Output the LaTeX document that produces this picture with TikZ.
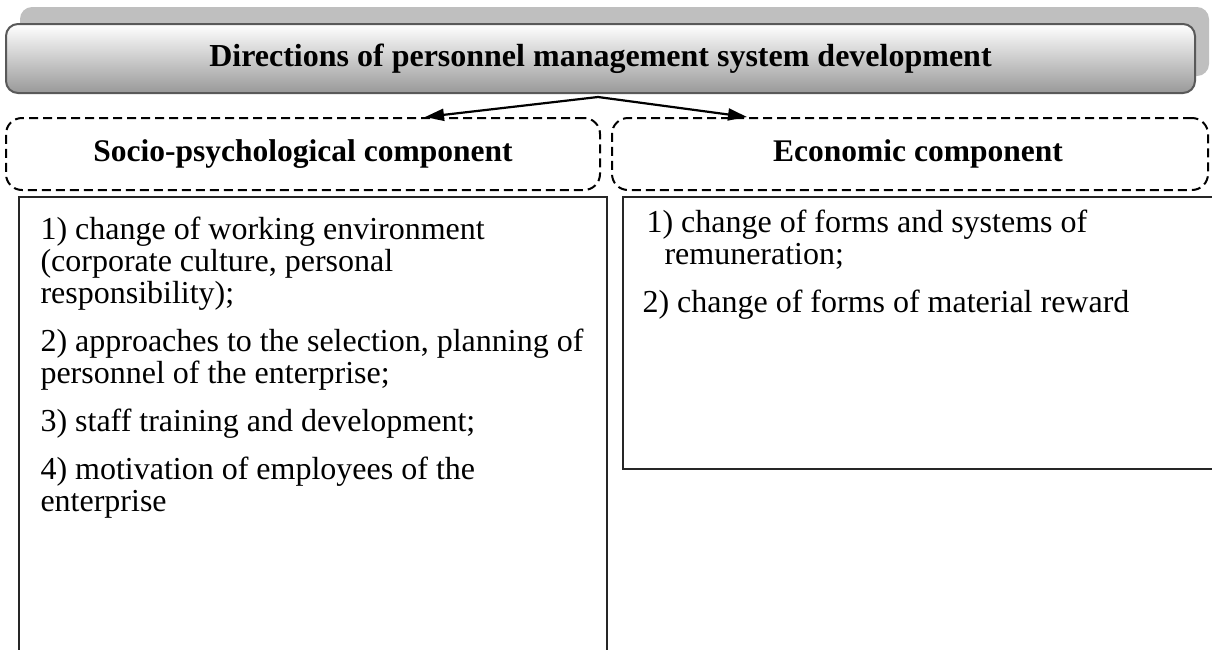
\documentclass[tikz,border=0pt]{standalone}
\usepackage{fontspec}
\setmainfont{Liberation Serif}
\usetikzlibrary{arrows.meta, positioning, shadows}

\begin{document}
\begin{tikzpicture}[x=0.5pt, y=-0.5pt,
        head/.style={rectangle, draw=black!65, line width=1pt, rounded corners=6pt,
                  top color=white, bottom color=black!40,
                  general shadow={fill=black!25, shadow xshift=7pt, shadow yshift=8.5pt},
                  minimum width=594.5pt, minimum height=34.5pt,
                  font=\fontsize{16}{18}\selectfont\bfseries},
        comp/.style={rectangle, draw=black, line width=1pt, dash pattern=on 4.5pt off 2.5pt,
                  rounded corners=8pt, minimum height=36pt,
                  font=\fontsize{15.75}{17}\selectfont\bfseries},
        listbox/.style={rectangle, draw=black!85, line width=0.9pt},
        listtext/.style={inner sep=0pt, align=left, anchor=north west,
                  font=\fontsize{16}{16}\selectfont},
        arr/.style={-{Triangle[length=9.5pt,width=6pt]}, line width=1.1pt, black}]
      \clip (0,0) rectangle (1212,649);
      \node[head] (dirs) at (600.5,58.5) {\raisebox{-1.5pt}{Directions of personnel management system development}};
      \node[comp, minimum width=297pt] (soc) at (303,154) {\raisebox{-2pt}{Socio-psychological component}};
      \node[comp, minimum width=298pt] (eco) at (910,154) {\hspace*{8pt}\raisebox{-2pt}{Economic component}};
      \node[listbox, minimum width=294pt, minimum height=241.5pt] (socbox) at (313,438.5) {};
      \node[listbox, minimum width=303.5pt, minimum height=136pt] (ecobox) at (926.5,333) {};
      % lists
      \node[listtext] (soclist) at ([xshift=11pt,yshift=-10pt]socbox.north west)
        {1) change of working environment\\ (corporate culture, personal\\ responsibility);\\[8pt]
         2) approaches to the selection, planning of\\ personnel of the enterprise;\\[8pt]
         3) staff training and development;\\[8pt]
         4) motivation of employees of the\\ enterprise};
      \node[listtext] (ecolist) at ([xshift=10pt,yshift=-6.5pt]ecobox.north west)
        {\hspace*{2pt}1) change of forms and systems of\\
         \hspace*{11pt}remuneration;\\[8pt]
         2) change of forms of material reward};
      % arrows
      \coordinate (split) at (598,97);
      \coordinate (socend) at (425,117);
      \coordinate (ecoend) at (747,117);
      \draw[arr] (split) -- (socend);
      \draw[arr] (split) -- (ecoend);
    \end{tikzpicture}
\end{document}
